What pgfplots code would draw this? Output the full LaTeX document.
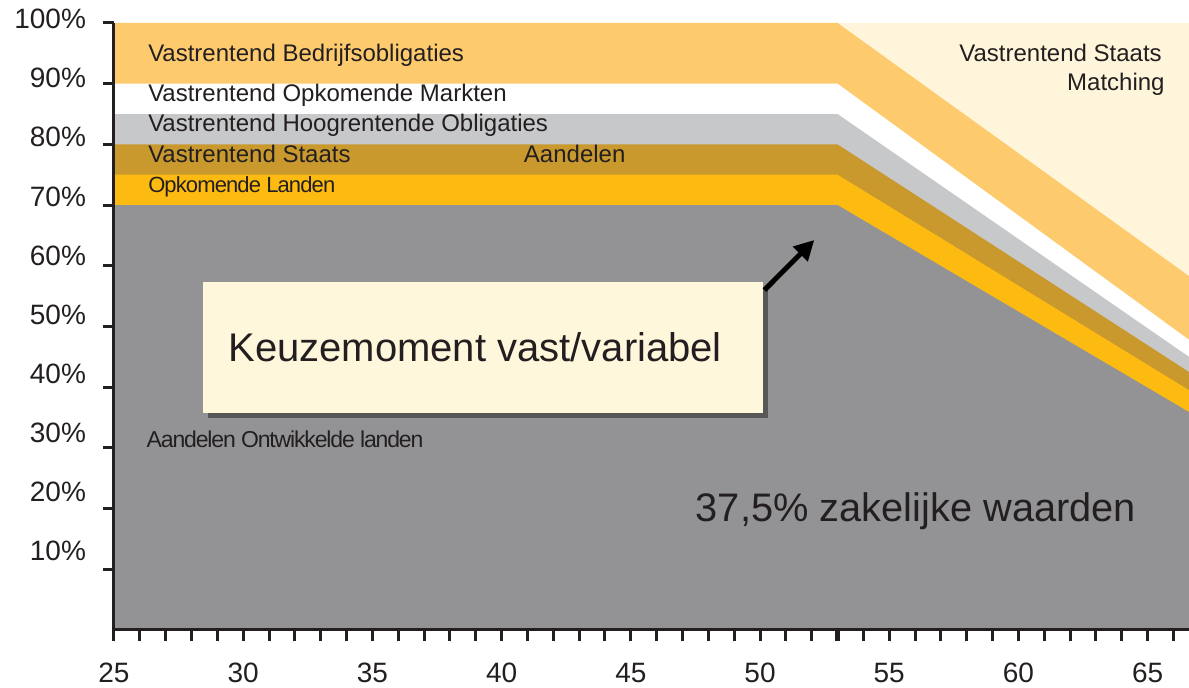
\documentclass[border=0pt]{standalone}
\usepackage{pgfplots}
\pgfplotsset{compat=1.18}
\usepackage{fontspec}
\setmainfont{Liberation Sans}
\usetikzlibrary{arrows.meta,shadows}
\definecolor{txt}{RGB}{35,31,32}
\definecolor{grayfill}{RGB}{147,147,149}
\definecolor{orangefill}{RGB}{253,187,18}
\definecolor{goldfill}{RGB}{201,153,46}
\definecolor{lgrayfill}{RGB}{199,200,202}
\definecolor{bedrijffill}{RGB}{253,203,110}
\definecolor{creamfill}{RGB}{255,245,218}
\definecolor{boxfill}{RGB}{255,247,220}
\begin{document}
\begin{tikzpicture}[font=\fontsize{12}{14}\selectfont]
\begin{axis}[
  at={(0,0)}, anchor=south west, scale only axis,
  width=537.5pt, height=303.5pt,
  xmin=25, xmax=66.6, ymin=0, ymax=100,
  axis x line*=bottom, axis y line*=left,
  axis line style={line width=1.5pt, color=txt, -},
  axis on top,
  xtick={25,30,...,65}, minor xtick={26,...,66},
  ytick={10,20,...,100},
  tick align=outside,
  major tick length=5.5pt, minor tick length=5.5pt,
  tick style={line width=1.5pt, color=txt},
  extra x ticks={53}, extra x tick labels={},
  extra x tick style={tick style={line width=2.6pt, color=txt}},
  ticklabel style={font=\fontsize{14}{16}\selectfont, text=txt},
  /pgf/number format/assume math mode=true,
  yticklabel={\pgfmathprintnumber{\tick}\%},
  yticklabel style={xshift=-5pt, yshift={(9-0.78*\ticknum)*1pt}},
  xticklabel style={yshift=-7.5pt},
  clip=false,
]
\addplot[fill=creamfill, draw=none] coordinates {(25,100) (53,100) (66.6,100)} \closedcycle;
\addplot[fill=bedrijffill, draw=none] coordinates {(25,100) (53,100) (66.6,58.3)} \closedcycle;
\addplot[fill=white, draw=none] coordinates {(25,90) (53,90) (66.6,47.8)} \closedcycle;
\addplot[fill=lgrayfill, draw=none] coordinates {(25,85) (53,85) (66.6,45.0)} \closedcycle;
\addplot[fill=goldfill, draw=none] coordinates {(25,80) (53,80) (66.6,42.5)} \closedcycle;
\addplot[fill=orangefill, draw=none] coordinates {(25,75) (53,75) (66.6,39.5)} \closedcycle;
\addplot[fill=grayfill, draw=none] coordinates {(25,70) (53,70) (66.6,35.9)} \closedcycle;

\node[anchor=base west, inner sep=0, text=txt] at (axis cs:26.31,93.6) {Vastrentend Bedrijfsobligaties};
\node[anchor=base west, inner sep=0, text=txt] at (axis cs:26.31,87.0) {Vastrentend Opkomende Markten};
\node[anchor=base west, inner sep=0, text=txt] at (axis cs:26.31,82.1) {Vastrentend Hoogrentende Obligaties};
\node[anchor=base west, inner sep=0, text=txt] at (axis cs:26.31,77.05) {Vastrentend Staats};
\node[anchor=base west, inner sep=0, text=txt] at (axis cs:40.85,77.05) {Aandelen};
\node[anchor=base west, inner sep=0, text=txt, font=\fontsize{11}{13}\selectfont\addfontfeature{LetterSpace=-4}] at (axis cs:26.31,72.0) {Opkomende Landen};
\node[anchor=base west, inner sep=0, text=txt, font=\fontsize{11.5}{13}\selectfont\addfontfeature{LetterSpace=-5}] at (axis cs:26.25,30.03) {Aandelen Ontwikkelde landen};
\node[anchor=base east, inner sep=0, text=txt] at (axis cs:65.56,93.7) {Vastrentend Staats};
\node[anchor=base east, inner sep=0, text=txt] at (axis cs:65.67,88.96) {Matching};

\node[fill=boxfill, minimum width=280pt, minimum height=65.5pt, inner sep=0,
      drop shadow={shadow xshift=2.5pt, shadow yshift=-2.5pt, opacity=0.4, fill=black}]
      at (axis cs:39.27,46.54) {};
\node[anchor=base west, inner sep=0, text=txt, font=\fontsize{20}{24}\selectfont] at (axis cs:29.41,44.2) {Keuzemoment vast/variabel};
\draw[line width=2.5pt, color=black, -{Triangle[length=10pt,width=10pt]}] (axis cs:50.17,56.0) -- (axis cs:52.1,64.25);
\node[anchor=base west, inner sep=0, text=txt, font=\fontsize{19.9}{24}\selectfont] at (axis cs:47.5,17.84) {37,5\% zakelijke waarden};
\end{axis}
\pgfresetboundingbox
\path[use as bounding box] (-57pt,-29pt) rectangle (537.5pt,315pt);
\end{tikzpicture}
\end{document}
